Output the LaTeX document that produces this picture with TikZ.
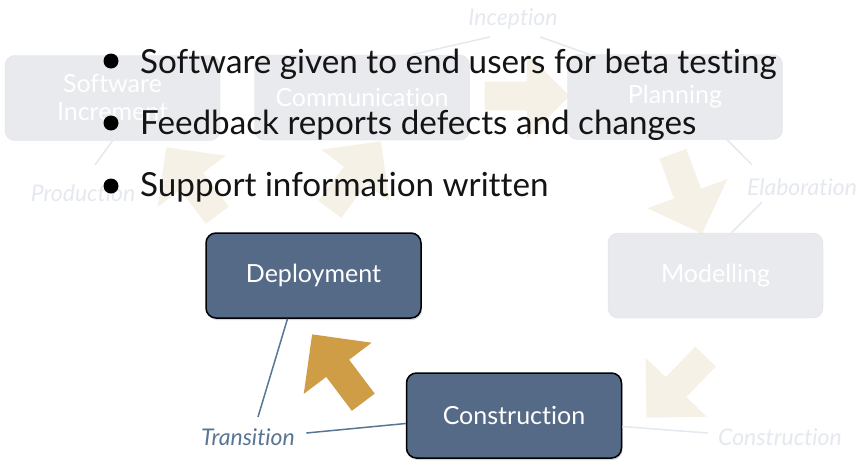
\documentclass[tikz,border=0pt]{standalone}
\usepackage{fontspec}
\setmainfont{Lato}[Ligatures=NoCommon]
\usetikzlibrary{shapes.arrows,shadows}

\definecolor{slate}{RGB}{84,106,135}
\definecolor{ochre}{RGB}{206,157,70}
\definecolor{cream}{RGB}{246,241,230}
\definecolor{mist}{RGB}{233,234,237}
\definecolor{mistedge}{RGB}{224,225,229}
\definecolor{mistlabel}{RGB}{229,233,239}
\definecolor{steel}{RGB}{88,118,148}

\begin{document}
\begin{tikzpicture}[x=1pt,y=-1pt,
    faintbox/.style={draw=mistedge, fill=mist, rounded corners=10pt,
        minimum width=215pt, minimum height=85pt, align=center,
        text=white, font=\fontsize{25}{28}\selectfont},
    darkbox/.style={draw=black, line width=1.5pt, fill=slate, rounded corners=10pt,
        minimum width=215pt, minimum height=85pt, text=white,
        font=\fontsize{25}{28}\selectfont,
        drop shadow={opacity=0.3, shadow xshift=1pt, shadow yshift=-2pt}},
    faintlabel/.style={text=mistlabel, font=\fontsize{23}{24}\selectfont\itshape},
    steellabel/.style={text=steel, font=\fontsize{23}{24}\selectfont\itshape},
    faintline/.style={draw=mistlabel, line width=1.5pt},
    steelline/.style={draw=steel, line width=1.5pt},
    faintarrow/.style={single arrow, fill=cream, minimum size=85pt,
        single arrow head extend=28pt, inner xsep=0pt, inner ysep=14pt},
    goldarrow/.style={faintarrow, fill=ochre},
    dot/.style={circle, fill=black, minimum size=15pt, inner sep=0pt},
    bullettext/.style={anchor=base west, inner sep=0pt, text=black!92,
        font=\fontsize{33.2}{36}\selectfont}]
    \fill[white, use as bounding box] (0,0) rectangle (859,461);

    % faded cycle in the background
    \node[faintarrow] (ar1) at (520,96) {};
    \node[faintarrow, rotate=-70] (ar2) at (685,187) {};
    \node[faintarrow, rotate=-134] (ar3) at (681,382) {};
    \node[faintarrow, rotate=127] (ar5) at (196,187) {};
    \node[faintarrow, rotate=53] (ar6) at (351,181) {};

    \node[faintbox] (incr) at (112.5,98) {Software\\Increment};
    \node[faintbox] (comm) at (362,97.5) {Communication};
    \node[faintbox] (plan) at (675,97) {Planning};
    \node[faintbox] (model) at (715.5,275.5) {Modelling};

    \node[faintlabel] (incep) at (513,19) {Inception};
    \node[faintlabel] (elab) at (802,187) {Elaboration};
    \node[faintlabel] (prod) at (83,193) {Production};
    \node[faintlabel] (constrlab) at (780,437) {Construction};

    \draw[faintline] ([xshift=-23pt,yshift=-4pt]incep.south) -- ([xshift=-58pt]comm.north east);
    \draw[faintline] ([xshift=27pt,yshift=-4pt]incep.south) -- ([xshift=22pt]plan.north west);
    \draw[faintline] ([xshift=52pt]plan.south) -- ([xshift=-50pt,yshift=10pt]elab.north);
    \draw[faintline] ([xshift=-40pt,yshift=-3pt]elab.south) -- ([xshift=16pt]model.north);
    \draw[faintline] (incr.south) -- ([xshift=12pt,yshift=16pt]prod.north);

    % current phase
    \node[darkbox] (deploy) at (313.5,275.5) {Deployment};
    \node[darkbox] (constr) at (514,415.5) {Construction};
    \node[goldarrow, rotate=127] (ar4) at (342,374) {};

    \node[steellabel] (trans) at (248,437) {Transition};
    \draw[steelline] ([xshift=-26pt]deploy.south) -- ([xshift=10pt,yshift=8pt]trans.north);
    \draw[steelline] ([xshift=8pt,yshift=4pt]trans.east) -- ([yshift=-8pt]constr.west);
    \draw[faintline] ([yshift=-11pt]constr.east) -- ([xshift=-7pt,yshift=4pt]constrlab.west);

    % bullet points
    \node[dot] (d1) at (111,61) {};
    \node[dot] (d2) at (111,123) {};
    \node[dot] (d3) at (111,186) {};
    \node[bullettext] (b1) at (140,73) {Software given to end users for beta testing};
    \node[bullettext] (b2) at (140,134) {Feedback reports defects and changes};
    \node[bullettext] (b3) at (140,196) {Support information written};
\end{tikzpicture}
\end{document}
